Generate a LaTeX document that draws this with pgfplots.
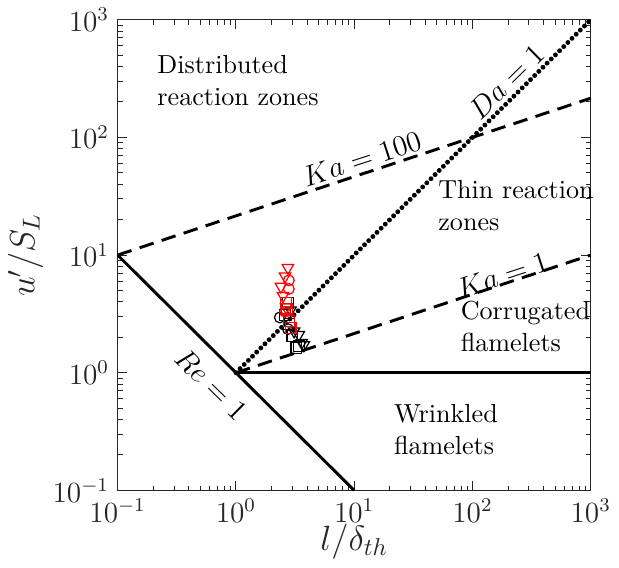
\documentclass[border=0pt]{standalone}
\usepackage{pgfplots}
\pgfplotsset{compat=1.18}
\definecolor{axgray}{gray}{0.15}
\begin{document}
\begin{tikzpicture}
\begin{axis}[
    xmode=log, ymode=log,
    xmin=0.1, xmax=1000, ymin=0.1, ymax=1000,
    width=194pt, height=193pt, scale only axis,
    axis line style={axgray, line width=0.4pt},
    tick style={axgray, line width=0.4pt},
    major tick length=4pt, minor tick length=2pt,
    tick align=inside,
    xtick={0.1,1,10,100,1000}, ytick={0.1,1,10,100,1000},
    ticklabel style={axgray, font=\large},
    xlabel={$l/\delta_{th}$}, ylabel={$u'/S_L$},
    label style={font=\Large, axgray},
    xlabel style={yshift=6pt}, ylabel style={yshift=-3pt},
    clip=false,
]
% regime boundaries
\addplot[black, line width=1.2pt, dash pattern=on 6pt off 3.5pt] coordinates {(0.1,10) (1000,215.4)};
\addplot[black, line width=1.2pt, dash pattern=on 6pt off 3.5pt] coordinates {(1,1) (1000,10)};
\addplot[black, line width=2pt, dash pattern=on 0pt off 2.4pt, line cap=round] coordinates {(1,1) (1000,1000)};
\addplot[black, line width=1.2pt] coordinates {(0.1,10) (10,0.1)};
\addplot[black, line width=1.2pt] coordinates {(1,1) (1000,1)};
% black markers
\addplot[only marks, mark=square, mark size=2.2pt, black, mark options={line width=0.5pt}] coordinates {
(2.75,3.9) (2.6,3.1) (2.8,2.6) (3.0,2.05) (3.25,1.62) (3.4,1.68)};
\addplot[only marks, mark=o, mark size=2.2pt, black, mark options={line width=0.5pt}] coordinates {
(2.35,2.95) (2.75,2.35)};
\addplot[only marks, mark=triangle, mark size=2.7pt, black, mark options={rotate=180, line width=0.5pt}] coordinates {
(2.9,3.4) (3.1,2.25) (3.4,2.1) (3.6,1.8) (3.75,1.72)};
% red markers
\addplot[only marks, mark=triangle, mark size=2.7pt, red, mark options={rotate=180, line width=0.5pt}] coordinates {
(2.75,7.8) (2.6,6.6) (2.4,5.4) (2.5,4.5) (2.65,3.6)};
\addplot[only marks, mark=o, mark size=2.2pt, red, mark options={line width=0.5pt}] coordinates {
(2.8,6.1) (2.8,5.15) (2.6,3.3)};
\addplot[only marks, mark=square, mark size=2.2pt, red, mark options={line width=0.5pt}] coordinates {
(2.65,3.9) (2.7,3.5) (2.8,2.75) (2.9,2.4)};
% region labels
\tikzset{region/.style={align=left, anchor=west, inner sep=0pt, font=\fontsize{10.7}{13}\selectfont}}
\node[region] at (axis cs:0.215,304) {Distributed\\reaction zones};
\node[region] at (axis cs:51,26.5) {Thin reaction\\zones};
\node[region] at (axis cs:79,2.46) {Corrugated\\flamelets};
\node[region] at (axis cs:21.5,0.33) {Wrinkled\\flamelets};
% line labels
\node[rotate=18, inner sep=0pt, font=\large] at (axis cs:11.6,66) {$Ka=100$};
\node[rotate=18, inner sep=0pt, font=\large] at (axis cs:179,6.78) {$Ka=1$};
\node[rotate=44.5, inner sep=0pt, font=\large] at (axis cs:193,298) {$Da=1$};
\node[rotate=-44.5, inner sep=0pt, font=\large] at (axis cs:0.62,0.80) {$Re=1$};
\end{axis}
\end{tikzpicture}
\end{document}
